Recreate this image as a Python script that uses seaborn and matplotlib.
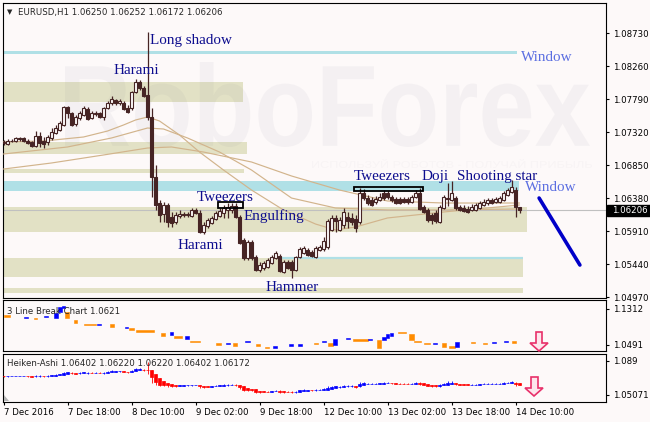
import numpy as np
import pandas as pd
import matplotlib
matplotlib.use("Agg")
import matplotlib.pyplot as plt
import seaborn as sns
from matplotlib.patches import Rectangle, Polygon, PathPatch
from matplotlib.textpath import TextPath
from matplotlib.font_manager import FontProperties
from matplotlib.transforms import Affine2D

sns.set_theme(style="white")
plt.rcParams['font.family'] = ['DejaVu Sans']

# ---- EURUSD H1 candles (bar index 0 = 7 Dec 02:00) ----
opens = [
    1.07178, 1.07149, 1.07192, 1.07192, 1.07235, 1.07235, 1.07192, 1.07178, 1.07121, 1.07263,
    1.07192, 1.07178, 1.07235, 1.07306, 1.07349, 1.07420, 1.07676, 1.07591, 1.07434, 1.07520,
    1.07562, 1.07648, 1.07520, 1.07577, 1.07591, 1.07534, 1.07662, 1.07733, 1.07776, 1.07733,
    1.07733, 1.07662, 1.07662, 1.07890, 1.08032, 1.07947, 1.07847, 1.07534, 1.06679, 1.06309,
    1.06153, 1.06281, 1.06110, 1.06039, 1.06124, 1.06153, 1.06138, 1.06124, 1.06210, 1.06167,
    1.05896, 1.05982, 1.06024, 1.06081, 1.06124, 1.06167, 1.06210, 1.06210, 1.06266, 1.06110,
    1.05782, 1.05526, 1.05754, 1.05540, 1.05355, 1.05383, 1.05398, 1.05455, 1.05526, 1.05554,
    1.05326, 1.05469, 1.05469, 1.05355, 1.05540, 1.05597, 1.05640, 1.05611, 1.05540, 1.05640,
    1.05654, 1.05683, 1.05925, 1.06096, 1.05925, 1.05996, 1.06110, 1.06096, 1.06081, 1.06039,
    1.06452, 1.06380, 1.06352, 1.06323, 1.06352, 1.06452, 1.06452, 1.06395, 1.06366, 1.06366,
    1.06366, 1.06366, 1.06323, 1.06395, 1.06452, 1.06252, 1.06210, 1.06138, 1.06167, 1.06039,
    1.06238, 1.06380, 1.06352, 1.06380, 1.06252, 1.06238, 1.06224, 1.06210, 1.06210, 1.06238,
    1.06281, 1.06309, 1.06352, 1.06323, 1.06323, 1.06352, 1.06423, 1.06466, 1.06494, 1.06250]
highs = [
    1.07206, 1.07221, 1.07221, 1.07249, 1.07249, 1.07249, 1.07221, 1.07192, 1.07334, 1.07320,
    1.07249, 1.07278, 1.07377, 1.07420, 1.07477, 1.07690, 1.07690, 1.07605, 1.07562, 1.07619,
    1.07690, 1.07676, 1.07619, 1.07619, 1.07605, 1.07676, 1.07762, 1.07833, 1.07790, 1.07790,
    1.07762, 1.07705, 1.07904, 1.08075, 1.08061, 1.07975, 1.08744, 1.07662, 1.06850, 1.06352,
    1.06323, 1.06309, 1.06181, 1.06181, 1.06210, 1.06181, 1.06181, 1.06238, 1.06238, 1.06210,
    1.06039, 1.06096, 1.06124, 1.06195, 1.06238, 1.06281, 1.06309, 1.06309, 1.06309, 1.06138,
    1.05811, 1.05782, 1.05782, 1.05569, 1.05469, 1.05483, 1.05526, 1.05569, 1.05626, 1.05583,
    1.05497, 1.05497, 1.05497, 1.05554, 1.05683, 1.05697, 1.05668, 1.05640, 1.05697, 1.05711,
    1.05825, 1.06081, 1.06138, 1.06138, 1.06110, 1.06238, 1.06181, 1.06167, 1.06138, 1.06523,
    1.06509, 1.06423, 1.06395, 1.06409, 1.06452, 1.06494, 1.06480, 1.06423, 1.06395, 1.06395,
    1.06395, 1.06395, 1.06423, 1.06494, 1.06523, 1.06281, 1.06238, 1.06167, 1.06210, 1.06281,
    1.06423, 1.06594, 1.06622, 1.06409, 1.06281, 1.06281, 1.06266, 1.06295, 1.06309, 1.06338,
    1.06366, 1.06380, 1.06380, 1.06395, 1.06409, 1.06480, 1.06523, 1.06637, 1.06537, 1.06252]
lows = [
    1.07135, 1.07135, 1.07178, 1.07178, 1.07192, 1.07178, 1.07149, 1.07107, 1.07107, 1.07107,
    1.07092, 1.07135, 1.07206, 1.07292, 1.07334, 1.07406, 1.07520, 1.07406, 1.07406, 1.07491,
    1.07548, 1.07491, 1.07505, 1.07548, 1.07520, 1.07491, 1.07648, 1.07705, 1.07705, 1.07705,
    1.07634, 1.07591, 1.07634, 1.07876, 1.07918, 1.07819, 1.07491, 1.06395, 1.06210, 1.06039,
    1.06039, 1.05967, 1.05967, 1.06010, 1.06096, 1.06110, 1.06110, 1.06110, 1.06153, 1.05882,
    1.05868, 1.05953, 1.06010, 1.06067, 1.06110, 1.06096, 1.06096, 1.06167, 1.06096, 1.05725,
    1.05497, 1.05497, 1.05497, 1.05341, 1.05326, 1.05355, 1.05383, 1.05440, 1.05512, 1.05326,
    1.05312, 1.05369, 1.05241, 1.05341, 1.05526, 1.05583, 1.05554, 1.05540, 1.05526, 1.05626,
    1.05626, 1.05654, 1.05910, 1.05896, 1.05910, 1.05953, 1.05953, 1.05996, 1.05896, 1.06010,
    1.06352, 1.06281, 1.06266, 1.06295, 1.06338, 1.06352, 1.06366, 1.06323, 1.06295, 1.06295,
    1.06309, 1.06295, 1.06309, 1.06380, 1.06210, 1.06167, 1.06039, 1.06010, 1.06024, 1.06024,
    1.06224, 1.06266, 1.06338, 1.06210, 1.06195, 1.06181, 1.06167, 1.06195, 1.06195, 1.06224,
    1.06266, 1.06281, 1.06295, 1.06309, 1.06309, 1.06338, 1.06409, 1.06452, 1.06110, 1.06172]
closes = [
    1.07164, 1.07192, 1.07199, 1.07235, 1.07221, 1.07192, 1.07164, 1.07121, 1.07263, 1.07164,
    1.07149, 1.07249, 1.07320, 1.07377, 1.07448, 1.07676, 1.07591, 1.07420, 1.07534, 1.07591,
    1.07662, 1.07505, 1.07591, 1.07591, 1.07534, 1.07662, 1.07733, 1.07790, 1.07733, 1.07762,
    1.07648, 1.07605, 1.07890, 1.08032, 1.07947, 1.07833, 1.07534, 1.06679, 1.06281, 1.06138,
    1.06281, 1.06039, 1.06024, 1.06138, 1.06153, 1.06138, 1.06153, 1.06210, 1.06167, 1.05896,
    1.05996, 1.06067, 1.06096, 1.06167, 1.06195, 1.06238, 1.06252, 1.06266, 1.06110, 1.05740,
    1.05526, 1.05754, 1.05526, 1.05355, 1.05426, 1.05455, 1.05497, 1.05540, 1.05597, 1.05341,
    1.05469, 1.05383, 1.05355, 1.05540, 1.05654, 1.05668, 1.05569, 1.05554, 1.05668, 1.05683,
    1.05768, 1.06053, 1.06096, 1.06053, 1.06067, 1.06181, 1.06053, 1.06039, 1.05953, 1.06452,
    1.06380, 1.06309, 1.06281, 1.06366, 1.06395, 1.06380, 1.06395, 1.06352, 1.06309, 1.06309,
    1.06323, 1.06323, 1.06395, 1.06452, 1.06224, 1.06181, 1.06067, 1.06067, 1.06053, 1.06252,
    1.06395, 1.06366, 1.06452, 1.06238, 1.06210, 1.06195, 1.06181, 1.06252, 1.06281, 1.06309,
    1.06323, 1.06352, 1.06309, 1.06366, 1.06380, 1.06452, 1.06494, 1.06537, 1.06252, 1.06206]

# moving averages at sample bars
ma_fast_bars = [0, 10, 20, 26, 30, 33, 36, 39, 44, 49, 55, 62, 70, 78, 83, 88, 96, 110, 129]
ma_fast = [1.07178, 1.07192, 1.07249, 1.07334, 1.07420, 1.07491, 1.07534, 1.07477, 1.07278,
           1.07035, 1.06779, 1.06494, 1.06210, 1.06010, 1.05925, 1.05967, 1.06096, 1.06181, 1.06281]
ma_mid_bars = [0, 16, 27, 36, 40, 46, 54, 62, 72, 83, 96, 110, 129]
ma_mid = [1.07007, 1.07107, 1.07235, 1.07377, 1.07363, 1.07235, 1.07035, 1.06779, 1.06380,
          1.06238, 1.06210, 1.06210, 1.06224]
ma_slow_bars = [0, 12, 25, 36, 42, 50, 62, 72, 84, 96, 110, 129]
ma_slow = [1.06793, 1.06879, 1.06993, 1.07092, 1.07107, 1.07035, 1.06893, 1.06694, 1.06494,
           1.06338, 1.06309, 1.06309]

# support / resistance zones
zone_lo = [1.08427, 1.07747, 1.07007, 1.06736, 1.06480, 1.05896, 1.05255, 1.05027]
zone_hi = [1.08474, 1.08032, 1.07178, 1.06793, 1.06622, 1.06252, 1.05526, 1.05098]
zone_end = [128.4, 59.9, 60.8, 60.0, 128.9, 130.9, 129.9, 129.9]
zone_kind = ['window', 'range', 'range', 'range', 'window', 'range', 'range', 'range']
support_bars = [68.9, 129.9]
support_price = 1.05526
last_price = 1.06206

# pattern boxes: start bar, end bar, low, high
tweezer_start = [53.6, 87.6]
tweezer_end = [59.9, 104.9]
tweezer_lo = [1.06238, 1.06480]
tweezer_hi = [1.06323, 1.06530]

# forecast line
forecast_bars = [133.9, 144.1]
forecast_prices = [1.06380, 1.05426]

# labels: text, bar, price
pattern_text = ['Long shadow', 'Harami', 'Tweezers', 'Engulfing', 'Harami', 'Hammer',
                'Tweezers', 'Doji', 'Shooting star']
pattern_bar = [36.6, 27.4, 48.4, 60.1, 43.4, 65.4, 87.6, 104.4, 113.4]
pattern_price = [1.08580, 1.08146, 1.06338, 1.06067, 1.05654, 1.05056, 1.06637, 1.06630, 1.06637]
window_bar = [129.4, 130.4]
window_price = [1.08331, 1.06480]

price_ticks = [1.08730, 1.08260, 1.07790, 1.07320, 1.06850, 1.06380, 1.05910, 1.05440, 1.04970]

# 3 line break bricks
brick_start = [0, 5, 7.5, 10, 12.5, 13.5, 14.5, 15.4, 17.5, 20, 23.3, 26.5, 30.4, 31.4, 33,
               39.4, 41.5, 42.5, 45.4, 46.6, 53, 55.6, 57.3, 60.4, 63, 65.4, 67.4, 71.4, 73.5,
               77.5, 79.5, 81, 82.4, 85.6, 87.4, 91, 93.4, 94.5, 95.5, 96.5, 98.5, 101.4, 102.6,
               105, 107.4, 109.6, 111.4, 112.8, 116.8, 119.8, 122, 125, 127]
brick_end = [1.5, 6, 8.3, 11, 13.5, 14.5, 15.4, 16.4, 18.3, 23, 24.3, 27.5, 31.2, 32.5, 37.5,
             40.4, 42.3, 44.5, 46.4, 49, 54.3, 56.6, 58.3, 61.5, 64.1, 66.4, 68.4, 72.4, 74.5,
             78.5, 80.5, 82.4, 83.4, 86.6, 91, 92, 94.4, 95.5, 96.4, 97.4, 100.6, 102.6, 104.3,
             106.6, 108.4, 110.7, 112.8, 113.8, 117.8, 120.8, 123, 126, 128]
brick_hi = [1.1175, 1.1129, 1.1107, 1.1152, 1.1221, 1.1357, 1.1380, 1.1243, 1.1061, 1.0970,
            1.0970, 1.0970, 1.0901, 1.0879, 1.0833, 1.0765, 1.0787, 1.0696, 1.0696, 1.0582,
            1.0537, 1.0537, 1.0537, 1.0582, 1.0514, 1.0445, 1.0468, 1.0514, 1.0514, 1.0537,
            1.0582, 1.0537, 1.0628, 1.0651, 1.0628, 1.0628, 1.0605, 1.0673, 1.0742, 1.0765,
            1.0787, 1.0742, 1.0582, 1.0537, 1.0537, 1.0537, 1.0468, 1.0559, 1.0559, 1.0537,
            1.0559, 1.0582, 1.0582]
brick_lo = [1.1129, 1.1107, 1.1084, 1.1129, 1.1107, 1.1243, 1.1335, 1.1107, 1.0993, 1.0947,
            1.0947, 1.0901, 1.0879, 1.0833, 1.0787, 1.0696, 1.0719, 1.0651, 1.0628, 1.0559,
            1.0491, 1.0514, 1.0468, 1.0559, 1.0468, 1.0423, 1.0423, 1.0468, 1.0468, 1.0514,
            1.0559, 1.0468, 1.0491, 1.0628, 1.0582, 1.0605, 1.0423, 1.0605, 1.0651, 1.0696,
            1.0765, 1.0605, 1.0559, 1.0514, 1.0514, 1.0445, 1.0423, 1.0445, 1.0537, 1.0514,
            1.0537, 1.0559, 1.0537]
brick_up = [0, 1, 0, 1, 1, 1, 1, 0, 0, 0, 1, 0, 1, 0, 0, 0, 1, 0, 1, 0, 0, 1, 0, 1, 0, 0, 1, 1, 1,
            0, 1, 0, 1, 1, 0, 1, 0, 1, 1, 1, 0, 0, 0, 0, 1, 0, 0, 1, 0, 0, 1, 1, 0]

tick_bars = [0, 16, 32, 48, 64, 80, 96, 112, 128]
tick_labels = ['7 Dec 2016', '7 Dec 18:00', '8 Dec 10:00', '9 Dec 02:00', '9 Dec 18:00',
               '12 Dec 10:00', '13 Dec 02:00', '13 Dec 18:00', '14 Dec 10:00']

# ---- colours ----
BG = '#fdf9f9'
CANDLE = '#462424'
KHAKI = '#e2e1c5'
CYAN = '#b0e0e6'
TAN = '#d2b48c'
NAVY = '#0c0c8e'
WINBLUE = '#5b6ee1'
ORANGE = '#ff8c00'
BLUE = '#0000ff'
RED = '#ff0000'

W, H = 650, 422
fig = plt.figure(figsize=(6.5, 4.22), dpi=100)
fig.patch.set_facecolor(BG)


def px_rect(left, top, right, bottom):
    return [left / W, 1 - bottom / H, (right - left) / W, (bottom - top) / H]


ax = fig.add_axes(px_rect(3, 3, 606, 298))
ax2 = fig.add_axes(px_rect(3, 300, 606, 350.5))
ax3 = fig.add_axes(px_rect(3, 353.5, 606, 401.5))

XLIM = (-0.125, 150.625)
for a in (ax, ax2, ax3):
    a.set_facecolor(BG)
    for s in a.spines.values():
        s.set_color('black')
        s.set_linewidth(0.8)
    a.yaxis.tick_right()
    a.tick_params(axis='y', which='both', left=False, right=True, labelleft=False,
                  labelright=True, direction='out', length=2.5, width=0.8, pad=2.2,
                  labelsize=6.2, colors='black')
    a.grid(False)

df = pd.DataFrame({'open': opens, 'high': highs, 'low': lows, 'close': closes})
df['bar'] = np.arange(len(df))
bull = df['close'] >= df['open']

# ---- main panel ----
for lo, hi, end, kind in zip(zone_lo, zone_hi, zone_end, zone_kind):
    ax.fill_between([-2, end], lo, hi, color=CYAN if kind == 'window' else KHAKI,
                    lw=0, zorder=1)
ax.hlines(support_price, support_bars[0], support_bars[1], color=CYAN, lw=1.6, zorder=1.5)
ax.axhline(last_price, color='#c0c0c0', lw=0.8, zorder=2)

# watermark
wm = TextPath((0, 0), 'RoboForex', size=1, prop=FontProperties(family='Liberation Sans', weight='bold'))
bb = wm.get_extents()
tr = (Affine2D().translate(-bb.x0, -bb.y0)
      .scale((590 - 65) / bb.width / W, (360 - 275) / bb.height / H)
      .translate(65 / W, 275 / H) + fig.transFigure)
ax.add_patch(PathPatch(wm, transform=tr, facecolor='#70708a', alpha=0.06, lw=0, zorder=2.5))
wm2 = TextPath((0, 0), 'ИСПОЛЬЗУЙ РОБОТОВ - ПОЛУЧАЙ ПРИБЫЛЬ', size=1,
               prop=FontProperties(family='Liberation Sans'))
bb2 = wm2.get_extents()
tr2 = (Affine2D().translate(-bb2.x0, -bb2.y0)
       .scale((592 - 312) / bb2.width / W, (263 - 254) / bb2.height / H)
       .translate(312 / W, 254 / H) + fig.transFigure)
ax.add_patch(PathPatch(wm2, transform=tr2, facecolor='#70708a', alpha=0.035, lw=0, zorder=2.5))

# moving averages
for bars, vals in [(ma_slow_bars, ma_slow), (ma_mid_bars, ma_mid), (ma_fast_bars, ma_fast)]:
    sns.lineplot(x=bars, y=vals, ax=ax, color=TAN, lw=0.85, zorder=3, legend=False)

# candles
ax.vlines(df['bar'], df['low'], df['high'], color=CANDLE, lw=0.9, zorder=4)
body_lo = df[['open', 'close']].min(axis=1)
body_h = (df['close'] - df['open']).abs()
ax.bar(df['bar'], body_h, bottom=body_lo, width=0.62, color=np.where(bull, BG, CANDLE),
       edgecolor=CANDLE, lw=0.8, zorder=4.5)

# tweezers boxes
for s, e, lo, hi in zip(tweezer_start, tweezer_end, tweezer_lo, tweezer_hi):
    ax.add_patch(Rectangle((s, lo), e - s, hi - lo, fill=False, edgecolor='black',
                           lw=1.3, zorder=5))

sns.lineplot(x=forecast_bars, y=forecast_prices, ax=ax, color='#0000c8', lw=2.6,
             zorder=5, legend=False)

for t, b, p in zip(pattern_text, pattern_bar, pattern_price):
    ax.text(b, p, t, family='Liberation Serif', fontsize=10.9, color=NAVY,
            va='baseline', ha='left', zorder=6)
for b, p in zip(window_bar, window_price):
    ax.text(b, p, 'Window', family='Liberation Serif', fontsize=10.9, color=WINBLUE,
            va='baseline', ha='left', zorder=6)

ax.text(0.0249, 0.9593, 'EURUSD,H1 1.06250 1.06252 1.06172 1.06206', transform=ax.transAxes,
        fontsize=6.2, va='baseline', ha='left', zorder=7)
ax.text(0.0062, 0.9610, '\u25bc', transform=ax.transAxes, fontsize=5, va='baseline',
        ha='left', zorder=7)

ax.set_xlim(*XLIM)
ax.set_ylim(1.049564, 1.091572)
ax.set_yticks(price_ticks, [f'{v:.5f}' for v in price_ticks])
ax.set_xticks([])
ax.set_xlabel('')
ax.set_ylabel('')

# current price tag
ytr = ax.get_yaxis_transform()
ax.add_patch(Rectangle((1.0017, last_price - 0.00079), 0.0713, 0.00158, transform=ytr,
                       facecolor='black', edgecolor='black', clip_on=False, zorder=8))
ax.text(1.0099, last_price, f'{last_price:.5f}', transform=ytr, color='white', fontsize=6.2,
        va='center', ha='left', clip_on=False, zorder=9)

# ---- 3 line break panel ----
bricks = pd.DataFrame({'start': brick_start, 'end': brick_end, 'lo': brick_lo,
                       'hi': brick_hi, 'up': brick_up})
ax2.bar(bricks['start'], bricks['hi'] - bricks['lo'], bottom=bricks['lo'],
        width=bricks['end'] - bricks['start'], align='edge',
        color=np.where(bricks['up'] == 1, BLUE, ORANGE),
        edgecolor=np.where(bricks['up'] == 1, BLUE, ORANGE), lw=0.4, zorder=3)
ax2.set_xlim(*XLIM)
ax2.set_ylim(1.03656, 1.1517)
ax2.set_yticks([1.1312, 1.0491], ['1.1312', '1.0491'])
ax2.set_xticks([])
ax2.text(0.0066, 0.7228, '3 Line Break Chart 1.0621', transform=ax2.transAxes, fontsize=6.2,
         va='baseline', ha='left', zorder=5)

# ---- Heiken-Ashi panel ----
ha_close = (df['open'] + df['high'] + df['low'] + df['close']) / 4
ha_open = np.empty(len(df))
ha_open[0] = (df['open'][0] + df['close'][0]) / 2
for i in range(1, len(df)):
    ha_open[i] = (ha_open[i - 1] + ha_close[i - 1]) / 2
ha_high = np.maximum(df['high'], np.maximum(ha_open, ha_close))
ha_low = np.minimum(df['low'], np.minimum(ha_open, ha_close))
ha_col = np.where(ha_close >= ha_open, BLUE, RED)
ax3.vlines(df['bar'], ha_low, ha_high, colors=ha_col, lw=0.6, zorder=3)
ax3.bar(df['bar'], np.abs(ha_close - ha_open), bottom=np.minimum(ha_open, ha_close),
        width=0.75, color=ha_col, edgecolor=ha_col, lw=0.5, zorder=4)
ax3.set_xlim(*XLIM)
ax3.set_ylim(1.04339, 1.09744)
ax3.set_yticks([1.089, 1.05071], ['1.089', '1.05071'])
ax3.set_xticks(tick_bars, tick_labels)
ax3.tick_params(axis='x', bottom=True, direction='out', length=2.5, width=0.8, pad=2.2,
                labelsize=6.2, colors='black')
for lbl in ax3.get_xticklabels():
    lbl.set_horizontalalignment('left')
ax3.text(0.0066, 0.7396, 'Heiken-Ashi 1.06402 1.06220 1.06220 1.06402 1.06172',
         transform=ax3.transAxes, fontsize=6.2, va='baseline', ha='left', zorder=5)


def fig_pts(pts):
    return [(x / W, 1 - y / H) for x, y in pts]


# down arrows and chart-shift marker
arrow1 = [(536, 332), (542, 332), (542, 343), (548, 343), (539, 351), (530, 343), (536, 343)]
arrow2 = [(531, 377), (538, 377), (538, 388), (543, 388), (534, 396), (525, 388), (531, 388)]
for pts in (arrow1, arrow2):
    fig.add_artist(Polygon(fig_pts(pts), closed=True, transform=fig.transFigure,
                           facecolor='#fde6ec', edgecolor='#e8306a', lw=1.2, zorder=10))
fig.add_artist(Polygon(fig_pts([(3.5, 395), (3.5, 401), (9, 401)]), closed=True,
                       transform=fig.transFigure, facecolor='#b4b4b4', lw=0, zorder=10))

fig.savefig('out.png', dpi=100, facecolor=fig.get_facecolor())
